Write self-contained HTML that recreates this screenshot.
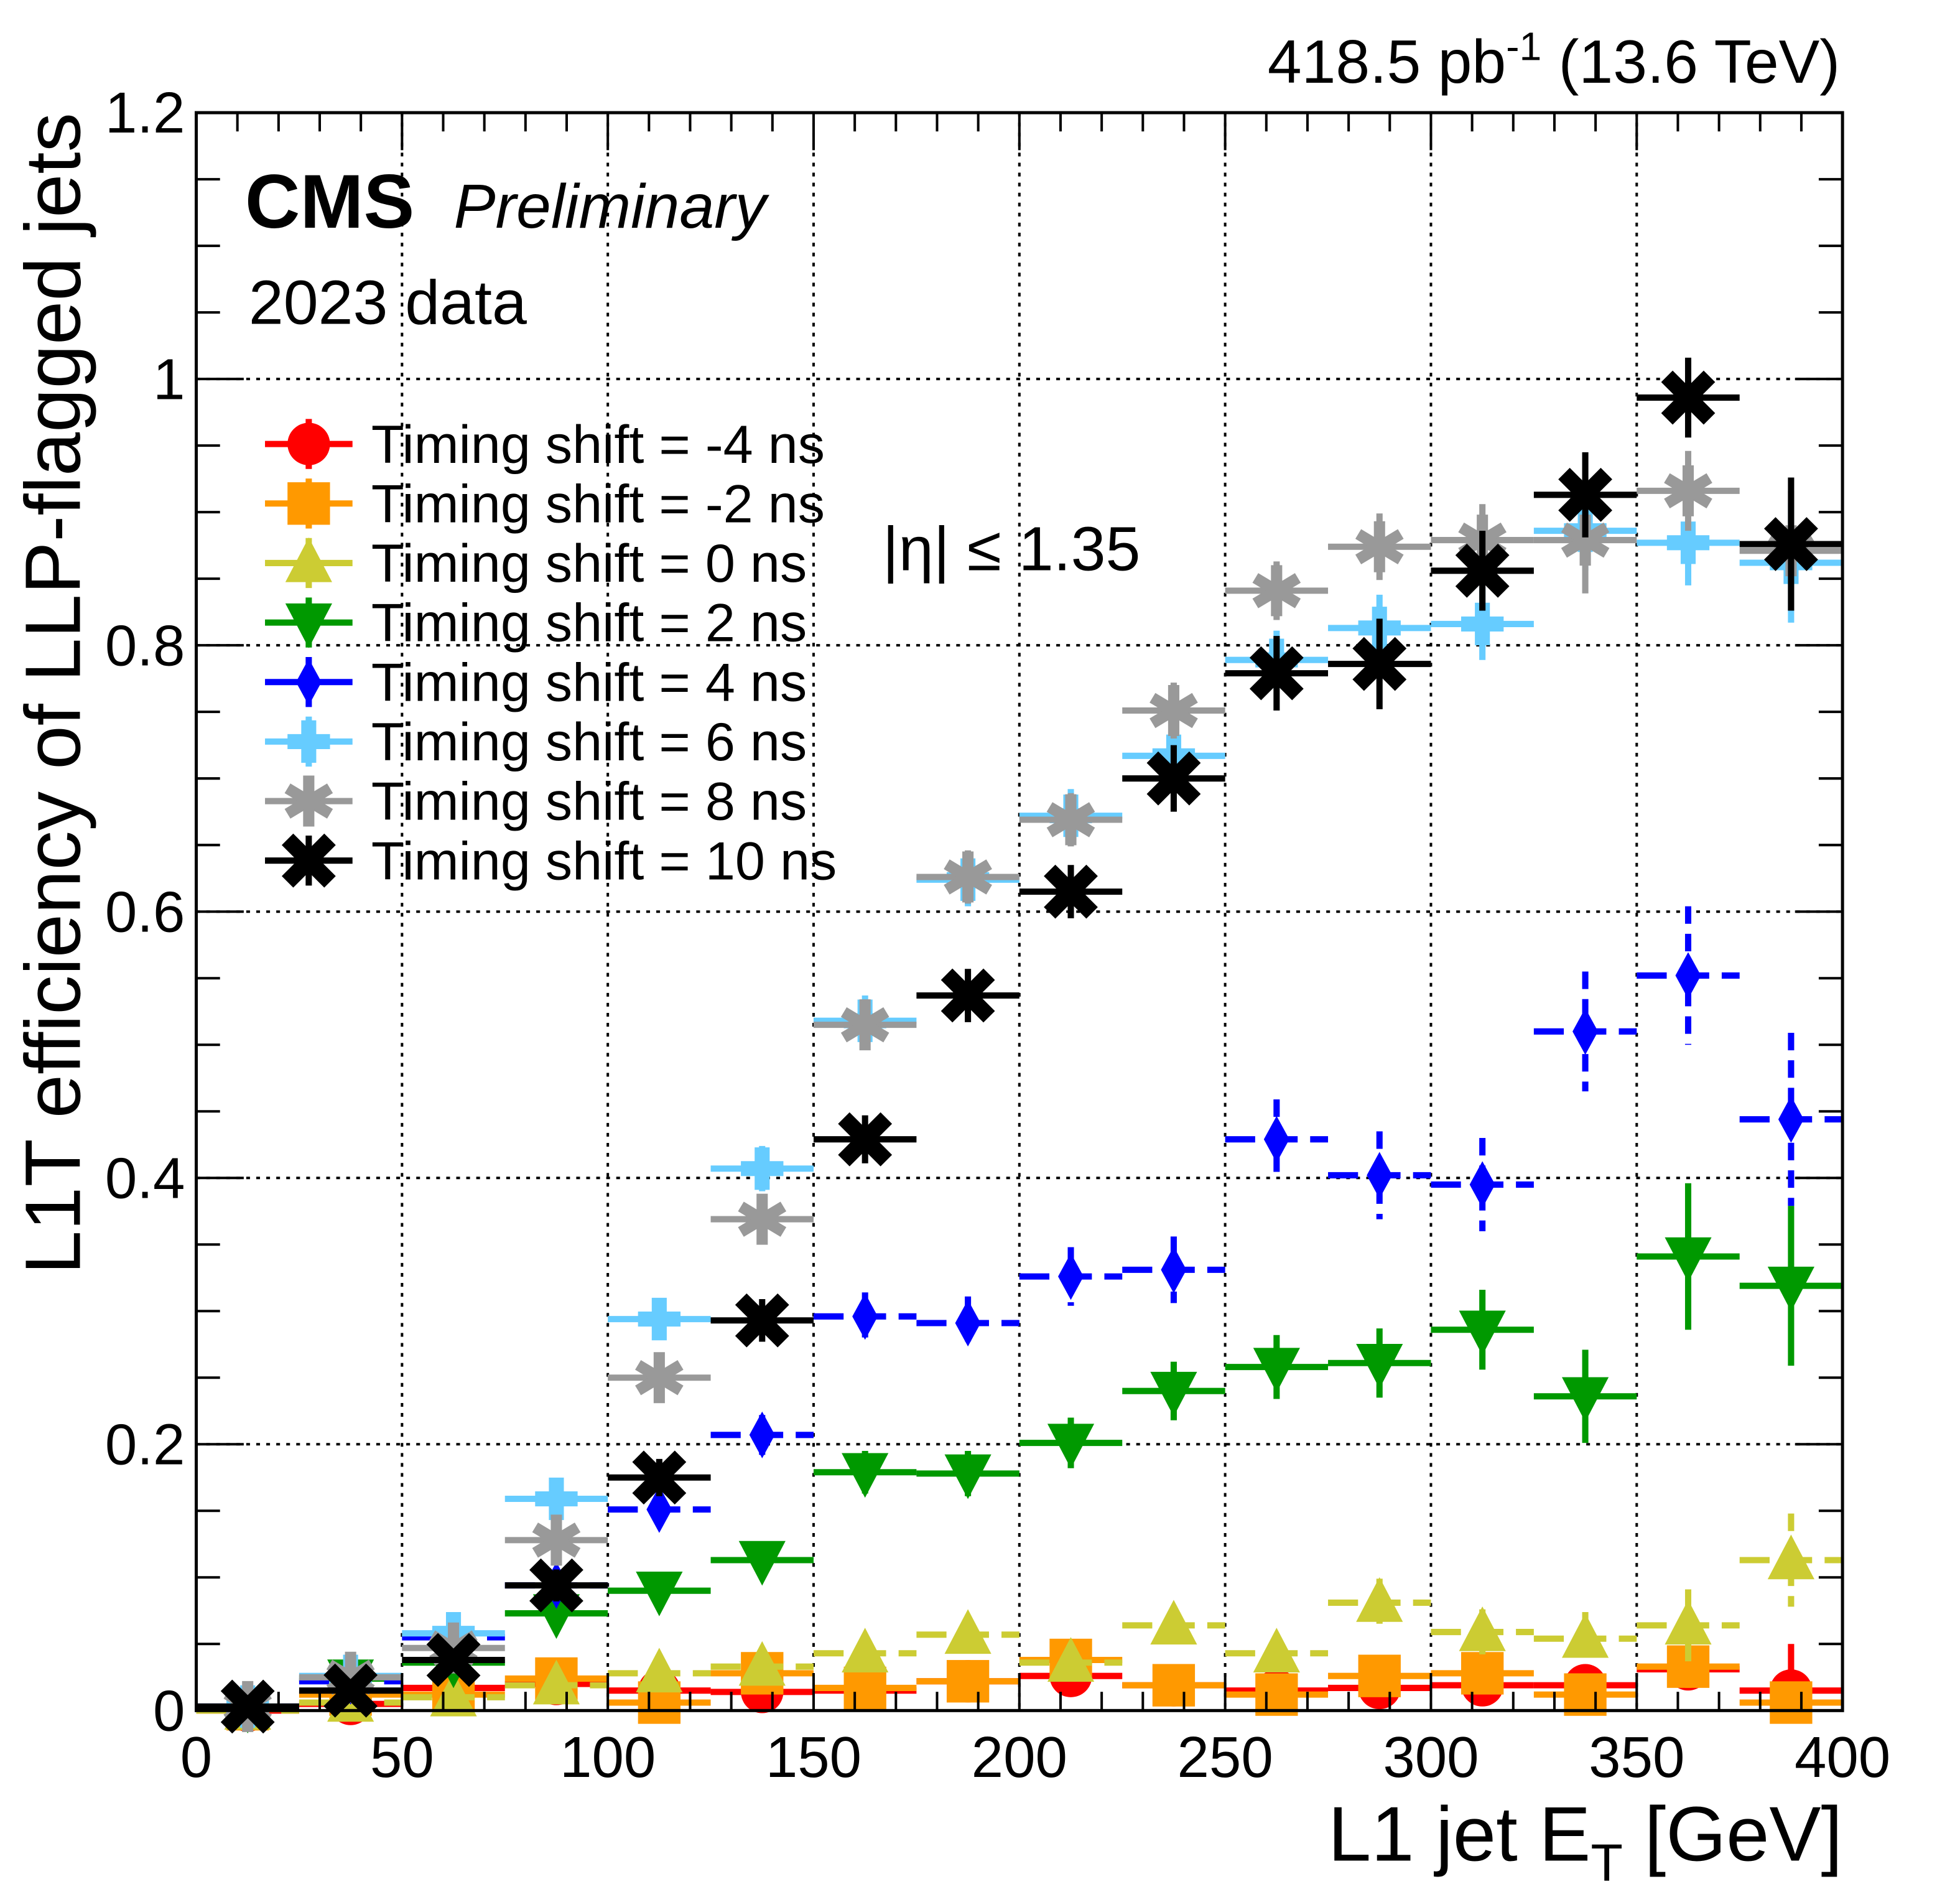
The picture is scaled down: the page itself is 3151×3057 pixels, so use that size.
<!DOCTYPE html>
<html><head><meta charset="utf-8"><style>
html,body{margin:0;padding:0;background:#fff;}
svg{display:block;font-family:"Liberation Sans",Arial,sans-serif;}
</style></head><body>
<svg id="chart" width="3151" height="3057" viewBox="0 0 1568 1521" xmlns="http://www.w3.org/2000/svg">
<rect x="0" y="0" width="1568" height="1521" fill="#fff"/>
<g id="grid"></g>
<g id="series"></g>
<rect x="157" y="90" width="1317" height="1278" fill="none" stroke="#000" stroke-width="2.5"/>
<g id="ticks"></g>
<text x="1472" y="66" font-size="49" text-anchor="end">418.5 pb<tspan dy="-18" font-size="32">-1</tspan><tspan dy="18"> (13.6 TeV)</tspan></text>
<text x="196" y="182" font-size="61" font-weight="bold">CMS</text>
<text x="363" y="182" font-size="50" font-style="italic">Preliminary</text>
<text x="199" y="259" font-size="50">2023 data</text>
<text x="706" y="456" font-size="50">|η| ≤ 1.35</text>
<text transform="translate(64,90) rotate(-90)" font-size="63" text-anchor="end">L1T efficiency of LLP-flagged jets</text>
<text x="1474" y="1488" font-size="62" text-anchor="end">L1 jet E<tspan dy="16" font-size="42">T</tspan><tspan dy="-16"> [GeV]</tspan></text>
<g id="legend"></g>
</svg>
<script>
const binCenters = [12.5,37.5,62.5,87.5,112.5,137.5,162.5,187.5,212.5,237.5,262.5,287.5,312.5,337.5,362.5,387.5];
const seriesLabels = ["Timing shift = -4 ns","Timing shift = -2 ns","Timing shift = 0 ns","Timing shift = 2 ns","Timing shift = 4 ns","Timing shift = 6 ns","Timing shift = 8 ns","Timing shift = 10 ns"];
const valsM4 = [0.0,0.005,0.017,0.020,0.015,0.014,0.015,0.022,0.026,0.019,0.015,0.017,0.019,0.019,0.031,0.015];
const valsM2 = [0.001,0.012,0.012,0.024,0.006,0.028,0.017,0.022,0.038,0.019,0.012,0.026,0.028,0.012,0.033,0.006];
const vals0 = [0.0,0.006,0.010,0.019,0.028,0.033,0.043,0.057,0.036,0.064,0.043,0.081,0.059,0.054,0.064,0.113];
const vals2 = [0.002,0.024,0.036,0.073,0.090,0.113,0.179,0.178,0.201,0.240,0.258,0.261,0.286,0.236,0.341,0.319];
const vals4 = [0.003,0.022,0.055,0.094,0.151,0.207,0.296,0.291,0.326,0.331,0.429,0.402,0.395,0.510,0.552,0.444];
const vals6 = [0.003,0.026,0.058,0.159,0.294,0.407,0.518,0.624,0.672,0.717,0.789,0.813,0.816,0.886,0.877,0.862];
const vals8 = [0.003,0.025,0.047,0.128,0.250,0.369,0.515,0.626,0.669,0.751,0.841,0.874,0.879,0.879,0.916,0.871];
const vals10 = [0.003,0.015,0.038,0.094,0.175,0.293,0.429,0.537,0.615,0.700,0.779,0.786,0.856,0.913,0.986,0.876];
const errM4 = [0.002,0.003,0.005,0.005,0.005,0.005,0.006,0.006,0.008,0.008,0.008,0.009,0.011,0.012,0.015,0.035];
const errM2 = [0.002,0.003,0.005,0.005,0.004,0.006,0.006,0.007,0.009,0.008,0.008,0.009,0.011,0.010,0.016,0.010];
const err0 = [0.002,0.003,0.004,0.006,0.007,0.008,0.010,0.011,0.011,0.014,0.013,0.018,0.017,0.020,0.027,0.035];
const err2 = [0.003,0.006,0.007,0.010,0.011,0.013,0.016,0.017,0.019,0.022,0.024,0.026,0.030,0.035,0.055,0.060];
const err4 = [0.003,0.006,0.008,0.011,0.013,0.015,0.018,0.020,0.022,0.025,0.030,0.033,0.035,0.045,0.052,0.065];
const err6 = [0.003,0.006,0.009,0.013,0.015,0.017,0.019,0.020,0.020,0.021,0.022,0.025,0.027,0.030,0.032,0.045];
const err8 = [0.003,0.006,0.009,0.013,0.015,0.017,0.019,0.020,0.020,0.021,0.022,0.025,0.027,0.040,0.030,0.045];
const err10 = [0.003,0.006,0.008,0.012,0.014,0.016,0.018,0.020,0.020,0.025,0.028,0.034,0.030,0.032,0.030,0.050];
const xTickLabels = ["0","50","100","150","200","250","300","350","400"];
const yTickLabels = ["0","0.2","0.4","0.6","0.8","1","1.2"];

const NS = "http://www.w3.org/2000/svg";
const X0=157, X1=1474, Y0=1368, Y1=90;
function xs(v){return X0+(v/400)*(X1-X0);}
function ys(v){return Y0-(v/1.2)*(Y0-Y1);}
function mk(tag,attrs,parent){const e=document.createElementNS(NS,tag);for(const k in attrs)e.setAttribute(k,attrs[k]);parent.appendChild(e);return e;}

const grid=document.getElementById('grid'), ticks=document.getElementById('ticks');
for(let i=1;i<8;i++){const x=xs(i*50);
 const l=mk('line',{x1:x,x2:x,y1:Y1,y2:Y0,stroke:'#000','stroke-width':2,'stroke-dasharray':'3,5'},grid);
 
 }
for(let i=1;i<6;i++){const y=ys(i*0.2);
 const l=mk('line',{x1:X0,x2:X1,y1:y,y2:y,stroke:'#000','stroke-width':2,'stroke-dasharray':'3,5'},grid);
 
 }
for(let v=0;v<=400;v+=10){const x=xs(v);const len=(v%50===0)?30:15;
 mk('line',{x1:x,x2:x,y1:Y0,y2:Y0-len,stroke:'#000','stroke-width':2},ticks);
 mk('line',{x1:x,x2:x,y1:Y1,y2:Y1+len,stroke:'#000','stroke-width':2},ticks);}
for(let k=0;k<=24;k++){const y=ys(k*0.05);const len=(k%4===0)?38:19;
 mk('line',{x1:X0,x2:X0+len,y1:y,y2:y,stroke:'#000','stroke-width':2},ticks);
 mk('line',{x1:X1,x2:X1-len,y1:y,y2:y,stroke:'#000','stroke-width':2},ticks);}
xTickLabels.forEach((t,i)=>{const e=mk('text',{x:xs(i*50),y:1421,'font-size':46,'text-anchor':'middle'},ticks);e.textContent=t;
 
 });
yTickLabels.forEach((t,i)=>{const e=mk('text',{x:148,y:ys(i*0.2)+16,'font-size':46,'text-anchor':'end'},ticks);e.textContent=t;
 
 });

const colors=['#ff0000','#ff9900','#cccc33','#009900','#0000ff','#66ccff','#999999','#000000'];
const shapes=['circle','square','tri-up','tri-down','diamond','cross','star','xcross'];
const dashes=[null,null,'24,10',null,'24,10',null,null,null];
const allVals=[valsM4,valsM2,vals0,vals2,vals4,vals6,vals8,vals10];
const allErr=[errM4,errM2,err0,err2,err4,err6,err8,err10];

function marker(shape,cx,cy,c,parent){
 const s=17;
 switch(shape){
 case 'circle': return mk('circle',{cx,cy,r:s,fill:c},parent);
 case 'square': return mk('rect',{x:cx-s,y:cy-s,width:2*s,height:2*s,fill:c},parent);
 case 'tri-up': return mk('polygon',{points:`${cx},${cy-s*1.2} ${cx-s*1.1},${cy+s*0.9} ${cx+s*1.1},${cy+s*0.9}`,fill:c},parent);
 case 'tri-down': return mk('polygon',{points:`${cx},${cy+s*1.2} ${cx-s*1.1},${cy-s*0.9} ${cx+s*1.1},${cy-s*0.9}`,fill:c},parent);
 case 'diamond': return mk('polygon',{points:`${cx},${cy-s*1.1} ${cx-s*0.6},${cy} ${cx},${cy+s*1.1} ${cx+s*0.6},${cy}`,fill:c},parent);
 case 'cross': { const w=6; return mk('path',{d:`M${cx-s},${cy-w}H${cx-w}V${cy-s}H${cx+w}V${cy-w}H${cx+s}V${cy+w}H${cx+w}V${cy+s}H${cx-w}V${cy+w}H${cx-s}Z`,fill:c},parent);}
 case 'star': { const g=mk('g',{},parent);
   mk('path',{d:`M${cx},${cy-s*1.2}L${cx},${cy+s*1.2}M${cx-s},${cy-s*0.6}L${cx+s},${cy+s*0.6}M${cx-s},${cy+s*0.6}L${cx+s},${cy-s*0.6}`,stroke:c,'stroke-width':9,fill:'none'},g);
   return g;}
 case 'xcross': { const g=mk('g',{},parent);
   mk('path',{d:`M${cx-s},${cy-s}L${cx+s},${cy+s}M${cx-s},${cy+s}L${cx+s},${cy-s}`,stroke:c,'stroke-width':13,fill:'none'},g);
   return g;}
 }
}

const sg=document.getElementById('series');
allVals.forEach((vals,si)=>{
 const g=mk('g',{},sg);
 
 
 const c=colors[si];
 vals.forEach((v,i)=>{
  const cx=xs(binCenters[i]), cy=ys(v);
  const hl=mk('line',{x1:xs(binCenters[i]-12.5),x2:xs(binCenters[i]+12.5),y1:cy,y2:cy,stroke:c,'stroke-width':5},g);
  if(dashes[si]) hl.setAttribute('stroke-dasharray',dashes[si]);
  const e=allErr[si][i];
  const vl=mk('line',{x1:cx,x2:cx,y1:ys(v+e),y2:ys(Math.max(0,v-e)),stroke:c,'stroke-width':5},g);
  if(dashes[si]) vl.setAttribute('stroke-dasharray','14,8');
  const m=marker(shapes[si],cx,cy,c,g);
  
  
 });
});

const lg=document.getElementById('legend');
seriesLabels.forEach((t,i)=>{
 const y=355+i*47.6;
 const g=mk('g',{},lg);
 
 
 mk('line',{x1:212,x2:282,y1:y,y2:y,stroke:colors[i],'stroke-width':5},g);
 mk('line',{x1:247,x2:247,y1:y-20,y2:y+20,stroke:colors[i],'stroke-width':5},g);
 marker(shapes[i],247,y,colors[i],g);
 const tx=mk('text',{x:297,y:y+15,'font-size':43},g);tx.textContent=t;
});
</script>
</body></html>
